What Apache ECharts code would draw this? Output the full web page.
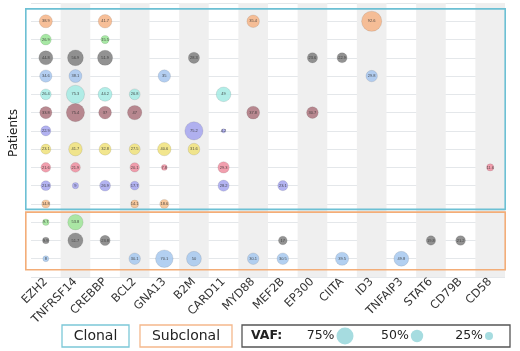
<!DOCTYPE html>
<html>
<head>
<meta charset="utf-8">
<script src="https://cdn.jsdelivr.net/npm/echarts@6/dist/echarts.min.js"></script>
<style>
  html, body { margin: 0; padding: 0; background: #fff; }
  #chart { width: 520px; height: 351px; }
</style>
</head>
<body>
<div id="chart"></div>
<script>
  // genes along the bottom
  const genes = ['EZH2', 'TNFRSF14', 'CREBBP', 'BCL2', 'GNA13', 'B2M', 'CARD11', 'MYD88',
    'MEF2B', 'EP300', 'CIITA', 'ID3', 'TNFAIP3', 'STAT6', 'CD79B', 'CD58'];

  // one row per patient, VAF (%) per gene, null = no mutation
  // first 11 rows are clonal, last 3 subclonal
  const rowVaf = [
    [38.9, null, 41.7, null, null, null, null, 35.4, null, null, null, 92.6, null, null, null, null],
    [26.9, null, 15.5, null, null, null, null, null, null, null, null, null, null, null, null, null],
    [44.8, 56.9, 51.9, null, null, 28.3, null, null, null, 23.6, 22.9, null, null, null, null, null],
    [34.6, 38.1, null, null, 35, null, null, null, null, null, null, 29.8, null, null, null, null],
    [26.4, 75.3, 44.2, 26.8, null, null, 49, null, null, null, null, null, null, null, null, null],
    [33.8, 75.4, 37, 47, null, null, null, 37.8, null, 30.7, null, null, null, null, null, null],
    [22.9, null, null, null, null, 75.2, 4.2, null, null, null, null, null, null, null, null, null],
    [23.1, 41.7, 32.8, 27.5, 40.6, 31.6, null, null, null, null, null, null, null, null, null, null],
    [21.6, 21.9, null, 20.1, 7.8, null, 29.3, null, null, null, null, null, null, null, null, 11.6],
    [21.8, 9, 26.9, 17.7, null, null, 28.2, null, 23.1, null, null, null, null, null, null, null],
    [14.8, null, null, 14.1, 18.6, null, null, null, null, null, null, null, null, null, null, null],
    [9.7, 53.8, null, null, null, null, null, null, null, null, null, null, null, null, null, null],
    [9.9, 51.7, 23.8, null, null, null, null, null, 17, null, null, null, null, 19.8, 21.2, null],
    [8, null, null, 30.1, 70.1, 50, null, 30.1, 30.5, null, 39.5, null, 49.8, null, null, null]
  ];
  const rowColors = ['#f6b486', '#98e494', '#7f7f7f', '#a6c6ee', '#a4ebe4', '#ad747e', '#a4a4ee',
    '#f0e27a', '#ef8ea0', '#a6a6ee', '#f6be8c', '#9ee496', '#7f7f7f', '#a6c8ee'];
  const clonalCount = 11;

  const sizeOf = v => 2.1 * Math.sqrt(v);

  const series = rowVaf.map((row, r) => ({
    type: 'scatter',
    name: 'P' + (r + 1),
    data: row.map((v, c) => [genes[c], r, v]).filter(d => d[2] != null),
    symbolSize: d => sizeOf(d[2]),
    itemStyle: {
      color: rowColors[r],
      opacity: 0.85,
      borderColor: 'rgba(0,0,0,0.18)',
      borderWidth: 0.6
    },
    label: {
      show: true,
      formatter: p => p.data[2],
      fontSize: 4,
      color: '#333'
    },
    emphasis: { disabled: true }
  }));

  const chart = echarts.init(document.getElementById('chart'));
  chart.setOption({
    animation: false,
    grid: { left: 25, right: 15, top: 3, bottom: 74 },
    xAxis: {
      type: 'category',
      data: genes,
      boundaryGap: true,
      axisLine: { show: false },
      axisTick: { show: false },
      axisLabel: {
        rotate: 45,
        margin: 3,
        fontSize: 11.5,
        fontFamily: 'DejaVu Sans',
        color: '#333'
      },
      splitArea: {
        show: true,
        areaStyle: { color: ['rgba(255,255,255,0)', '#efefef'] }
      }
    },
    yAxis: {
      type: 'value',
      inverse: true,
      min: -1,
      max: 14,
      interval: 1,
      axisLine: { show: false },
      axisTick: { show: false },
      axisLabel: { show: false },
      splitLine: { lineStyle: { color: '#e4e7ea', width: 1 } },
      name: 'Patients',
      nameLocation: 'middle',
      nameGap: 11,
      nameTextStyle: { fontSize: 12, fontFamily: 'DejaVu Sans', color: '#222', padding: [0, 0, 0, 14] }
    },
    series: series
  });

  // clonal / subclonal frames, placed from the axes
  const xL = chart.convertToPixel({ xAxisIndex: 0 }, genes[0]) - 20;
  const xR = chart.convertToPixel({ xAxisIndex: 0 }, genes[genes.length - 1]) + 15;
  const yPx = v => chart.convertToPixel({ yAxisIndex: 0 }, v);
  const c0 = yPx(-0.68), c1 = yPx(clonalCount - 0.7);
  const s0 = yPx(clonalCount - 0.55), s1 = yPx(rowVaf.length - 0.4);

  const legendFont = 'DejaVu Sans';
  const legendY = 336;
  const vafLegend = [[75, 345, 8.5], [50, 417, 6.2], [25, 489, 4]];

  chart.setOption({
    graphic: [
      { type: 'rect', shape: { x: xL, y: c0, width: xR - xL, height: c1 - c0 },
        style: { fill: 'none', stroke: '#6cc0d4', lineWidth: 1.6 }, z: 10 },
      { type: 'rect', shape: { x: xL, y: s0, width: xR - xL, height: s1 - s0 },
        style: { fill: 'none', stroke: '#f3ad78', lineWidth: 1.6 }, z: 10 },

      { type: 'rect', shape: { x: 62, y: legendY - 11, width: 67, height: 22 },
        style: { fill: '#fff', stroke: '#7cc8d8', lineWidth: 1.3 } },
      { type: 'text', x: 95.5, y: legendY,
        style: { text: 'Clonal', fontSize: 14, fontFamily: legendFont, fill: '#222', align: 'center', verticalAlign: 'middle' } },
      { type: 'rect', shape: { x: 140, y: legendY - 11, width: 92, height: 22 },
        style: { fill: '#fff', stroke: '#f5b88c', lineWidth: 1.3 } },
      { type: 'text', x: 186, y: legendY,
        style: { text: 'Subclonal', fontSize: 14, fontFamily: legendFont, fill: '#222', align: 'center', verticalAlign: 'middle' } },
      { type: 'rect', shape: { x: 242, y: legendY - 11, width: 268, height: 22 },
        style: { fill: '#fff', stroke: '#555', lineWidth: 1.3 } },
      { type: 'text', x: 251, y: legendY,
        style: { text: 'VAF:', fontSize: 12.5, fontWeight: 'bold', fontFamily: legendFont, fill: '#222', verticalAlign: 'middle' } }
    ].concat(vafLegend.flatMap(([v, cx, r]) => [
      { type: 'text', x: cx - r - 2, y: legendY,
        style: { text: v + '%', fontSize: 12.5, fontFamily: legendFont, fill: '#222', align: 'right', verticalAlign: 'middle' } },
      { type: 'circle', shape: { cx: cx, cy: legendY, r: r },
        style: { fill: '#a6dce0' } }
    ]))
  });
</script>
</body>
</html>
